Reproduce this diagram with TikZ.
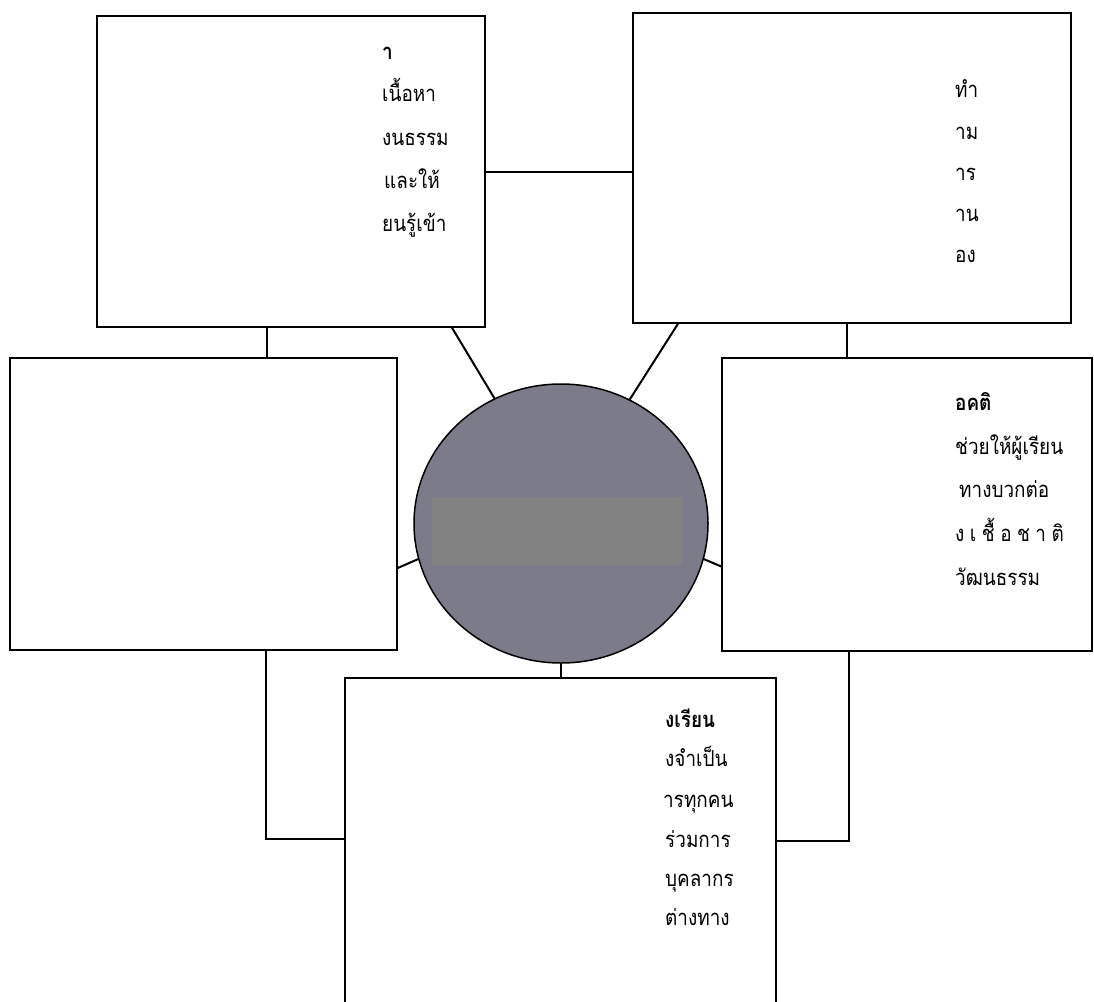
\documentclass[tikz,border=0pt]{standalone}
\usepackage{fontspec}
\newfontfamily\thai[Script=Thai,FakeStretch=0.86]{Loma}
\usetikzlibrary{shapes.geometric}
\definecolor{hubfill}{RGB}{124,123,137}
\definecolor{barfill}{RGB}{130,130,130}
\tikzset{
  box/.style={draw=black, line width=1.5pt, fill=white, rectangle, inner sep=0pt},
  conn/.style={draw=black, line width=2pt},
  txt/.style={anchor=base west, inner sep=0pt, font=\thai\fontsize{22}{26}\selectfont},
  btxt/.style={txt, font=\thai\bfseries\fontsize{22}{26}\selectfont},
}
\newcommand{\gapsp}{\hspace{5.5pt}}
\begin{document}
\begin{tikzpicture}[x=1pt, y=-1pt]
\clip (0,0) rectangle (1094,1001);
\fill[white] (0,0) rectangle (1094,1001);
% boxes
\node[box, minimum width=388pt, minimum height=311pt] (tl) at (291,171.5) {};
\node[box, minimum width=438pt, minimum height=310pt] (tr) at (852,168) {};
\node[box, minimum width=387pt, minimum height=292pt] (lb) at (203.5,504) {};
\node[box, minimum width=370pt, minimum height=293pt] (rb) at (907,504.5) {};
\node[box, minimum width=431pt, minimum height=332pt] (bot) at (560.5,844) {};
% hub
\node[ellipse, draw=black, line width=1.5pt, fill=hubfill, minimum width=294pt, minimum height=279pt, inner sep=0pt] (hub) at (561,523.5) {};
\node[rectangle, fill=barfill, minimum width=250pt, minimum height=68pt, inner sep=0pt] (bar) at (557,531) {};
% connectors
\draw[conn] (tl.east) -- (tl.east -| tr.west);
\draw[conn] ([xshift=161pt]tl.south) -- (hub.118);
\draw[conn] ([xshift=-174pt]tr.south) -- (hub.61);
\draw[conn] ([xshift=-24pt]tl.south) -- ([xshift=-24pt]tl.south |- lb.north);
\draw[conn] ([xshift=-5pt]tr.south) -- ([xshift=-5pt]tr.south |- rb.north);
\draw[conn] ([yshift=-64pt]lb.east) -- (hub.194);
\draw[conn] (hub.-14) -- ([yshift=-62pt]rb.west);
\draw[conn] (hub.south) -- (hub.south |- bot.north);
\draw[conn] ([xshift=62.5pt]lb.south) |- ([yshift=5.5pt]bot.west);
\draw[conn] ([xshift=-58pt]rb.south) |- ([yshift=3.5pt]bot.east);
% top-left text
\node[btxt] (tl1) at (382,59) {า};
\node[txt] (tl2) at (382,101) {เนื้อหา};
\node[txt] (tl3) at (382,145) {งนธรรม};
\node[txt] (tl4) at (384,188) {และให้};
\node[txt] (tl5) at (382,231) {ยนรู้เข้า};
% top-right text
\node[txt] (tr1) at (955,97) {ทำ};
\node[txt] (tr2) at (955,139) {าม};
\node[txt] (tr3) at (955,180) {าร};
\node[txt] (tr4) at (955,221) {าน};
\node[txt] (tr5) at (955,262) {อง};
% right text
\node[btxt] (rb1) at (955,410) {อคติ};
\node[txt] (rb2) at (955,454) {ช่วยให้ผู้เรียน};
\node[txt] (rb3) at (959,497) {ทางบวกต่อ};
\node[txt] (rb4) at (955,541) {ง\gapsp เ\gapsp ชื้\gapsp อ\gapsp ช\gapsp า\gapsp ติ};
\node[txt] (rb5) at (955,585) {วัฒนธรรม};
% bottom text
\node[btxt] (b1) at (665,727) {งเรียน};
\node[txt] (b2) at (665,766) {งจำเป็น};
\node[txt] (b3) at (663,807) {ารทุกคน};
\node[txt] (b4) at (665,847) {ร่วมการ};
\node[txt] (b5) at (665,886) {บุคลากร};
\node[txt] (b6) at (665,925) {ต่างทาง};
\end{tikzpicture}
\end{document}
